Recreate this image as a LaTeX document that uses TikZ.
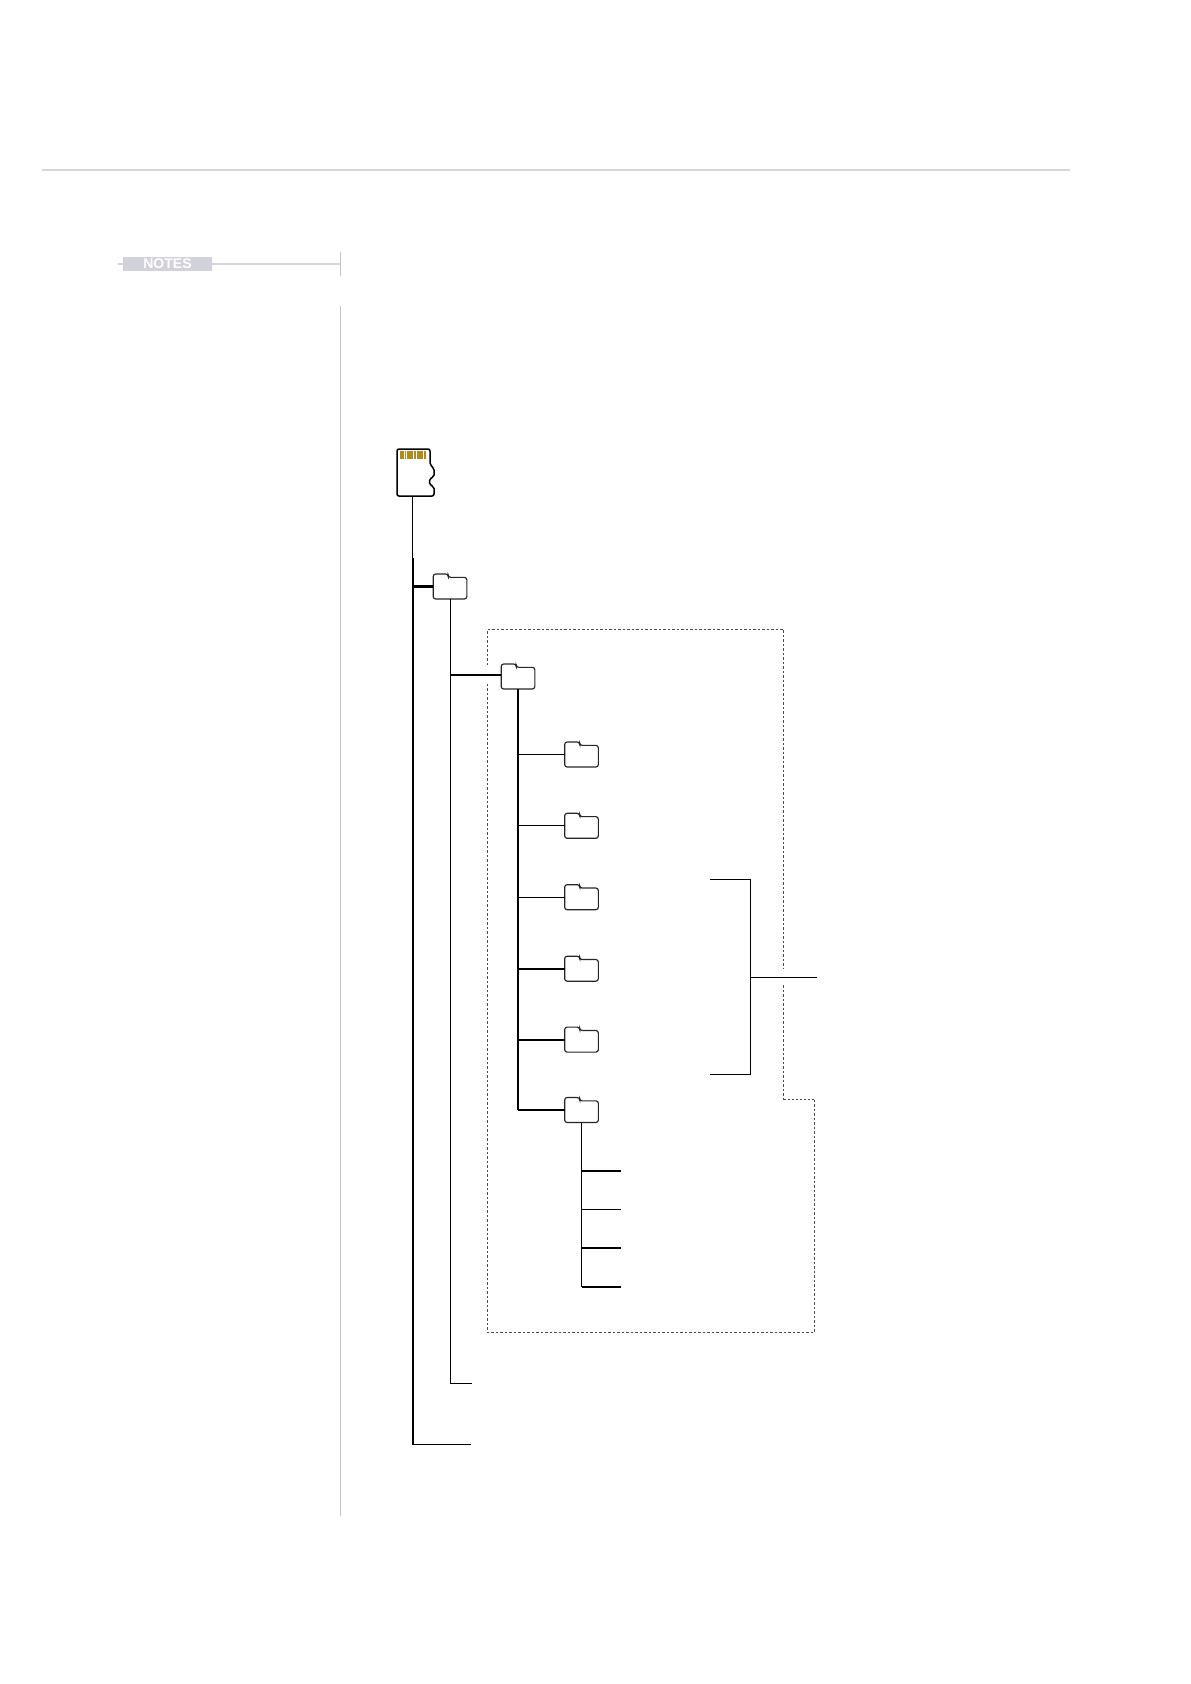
\documentclass[tikz,border=0pt]{standalone}
\usepackage{fontspec}
\setmainfont{Liberation Sans}
\definecolor{rulegray}{HTML}{D6D6DA}
\definecolor{sidegray}{HTML}{C4C4C8}
\definecolor{tabgray}{HTML}{D2D2DC}
\definecolor{contactgold}{HTML}{B08A1C}
\begin{document}
\begin{tikzpicture}[
  x=0.6pt, y=-0.6pt,
  rulegrey/.style={draw=rulegray, line width=0.9pt},
  sidegrey/.style={draw=sidegray, line width=0.8pt},
  thinline/.style={draw=black, line width=0.55pt},
  midline/.style={draw=black, line width=0.7pt},
  heavyline/.style={draw=black, line width=1pt},
  thickline/.style={draw=black, line width=1.25pt},
  dashline/.style={draw=black!70, line width=0.5pt, dash pattern=on 1.5pt off 1.2pt},
  stepline/.style={draw=black!70, line width=0.85pt, dash pattern=on 1.5pt off 0.9pt},
  folder/.style={minimum width=19.8pt, minimum height=14.6pt, inner sep=0pt,
    append after command={\pgfextra{\let\thisfolder\tikzlastnode
      \draw[draw=black!85, line width=0.7pt, rounded corners=1.5pt]
        (\thisfolder.south west) -- (\thisfolder.north west)
        -- ([xshift=9pt]\thisfolder.north west)
        -- ([xshift=9pt,yshift=-2pt]\thisfolder.north west)
        -- ([yshift=-2pt]\thisfolder.north east)
        -- (\thisfolder.south east) -- cycle;}}}
]
\useasboundingbox (0,0) rectangle (1191,1684);

% page furniture
\draw[rulegrey] (42,170) -- (1070,170);
\node[fill=tabgray, minimum width=53.4pt, minimum height=8.4pt, inner sep=0pt,
  font=\bfseries\fontsize{8.4}{9}\selectfont, text=white] (notes) at (167.5,264) {NOTES};
\coordinate (notesend) at (340.5,264);
\coordinate (notesstub) at (118,264);
\draw[rulegrey] (notes) -- (notesend);
\draw[rulegrey] (notesstub) -- (notes);
\draw[sidegrey] (340.5,252) -- (340.5,276);
\draw[sidegrey] (340.5,306) -- (340.5,1516);

% card
\node[minimum width=22.2pt, minimum height=28.2pt, inner sep=0pt] (card) at (415.5,472.5) {};
\draw[black, line width=0.9pt, rounded corners=1.2pt]
  (397,449) -- (430,449) -- (430,465) -- (434,468) -- (434,477)
  -- (429.5,478.5) -- (429.5,485) -- (434,486.5) -- (434,496) -- (397,496) -- cycle;
\foreach \cx/\cw in {400/3.5,404.5/1.5,407/6,414/1.5,416.5/6,423.5/2.5}
  \fill[contactgold] (\cx,451) rectangle ++(\cw,8);

% folders
\node[folder] (sub) at (450,586.5) {};
\node[folder] (main) at (518,676.5) {};
\foreach \name/\yy in {fa/754.5,fb/825.8,fc/897.2,fd/968.7,fe/1039.6,ff/1110}
  \node[folder] (\name) at (581.5,\yy) {};

% free ends
\coordinate (rootthick) at (412.7,558);
\coordinate (rootend) at (412.7,1444.5);
\coordinate (rootfile) at (471,1444.5);
\coordinate (subend) at (450,1383);
\coordinate (subfile) at (472,1383);
\coordinate (mainend) at (518,1110);
\coordinate (leafa) at (621,1170.7);
\coordinate (leafb) at (621,1209.3);
\coordinate (leafc) at (621,1248);
\coordinate (leafd) at (621,1286.7);
\coordinate (brtop) at (710,879.5);
\coordinate (brbot) at (710,1074.3);
\coordinate (brmid) at (750.5,977);
\coordinate (brout) at (817,977);

% tree
\draw[thinline] (card.south -| rootthick) -- (rootthick);
\draw[thickline] (rootthick) -- (rootend);
\draw[midline] (rootend) -- (rootfile);
\draw[thickline] (rootthick |- sub.west) -- (sub.west);
\draw[thinline] (sub.south) |- (subfile);
\draw[thickline] ([yshift=0.9pt]main.west -| sub.south) -- ([yshift=0.9pt]main.west);
\draw[thickline] (main.south) -- (mainend);
\draw[thinline] (main.south |- fa.west) -- (fa.west);
\draw[thinline] (main.south |- fb.west) -- (fb.west);
\draw[thinline] (main.south |- fc.west) -- (fc.west);
\draw[thickline] (main.south |- fd.west) -- (fd.west);
\draw[thickline] (main.south |- fe.west) -- (fe.west);
\draw[midline] (mainend) -- (ff.west);
\draw[midline] (ff.south) |- (leafd);
\draw[thickline] (ff.south |- leafa) -- (leafa);
\draw[thinline] (ff.south |- leafb) -- (leafb);
\draw[thickline] (ff.south |- leafc) -- (leafc);
\draw[thickline] (ff.south |- leafd) -- (leafd);

% bracket
\draw[heavyline] (brtop) -- (brtop -| brmid);
\draw[midline] (brtop -| brmid) -- (brbot -| brmid) -- (brbot);
\draw[thinline] (brmid) -- (brout);

% dashed area
\draw[dashline] (487.3,665) -- (487.3,629.3) -- (783.7,629.3) -- (783.7,968);
\draw[dashline] (783.7,985) -- (783.7,1099.7);
\draw[stepline] (783.7,1099.7) -- (814.7,1099.7);
\draw[dashline] (814.7,1099.7) -- (814.7,1332.3) -- (487.3,1332.3) -- (487.3,682);
\end{tikzpicture}
\end{document}
